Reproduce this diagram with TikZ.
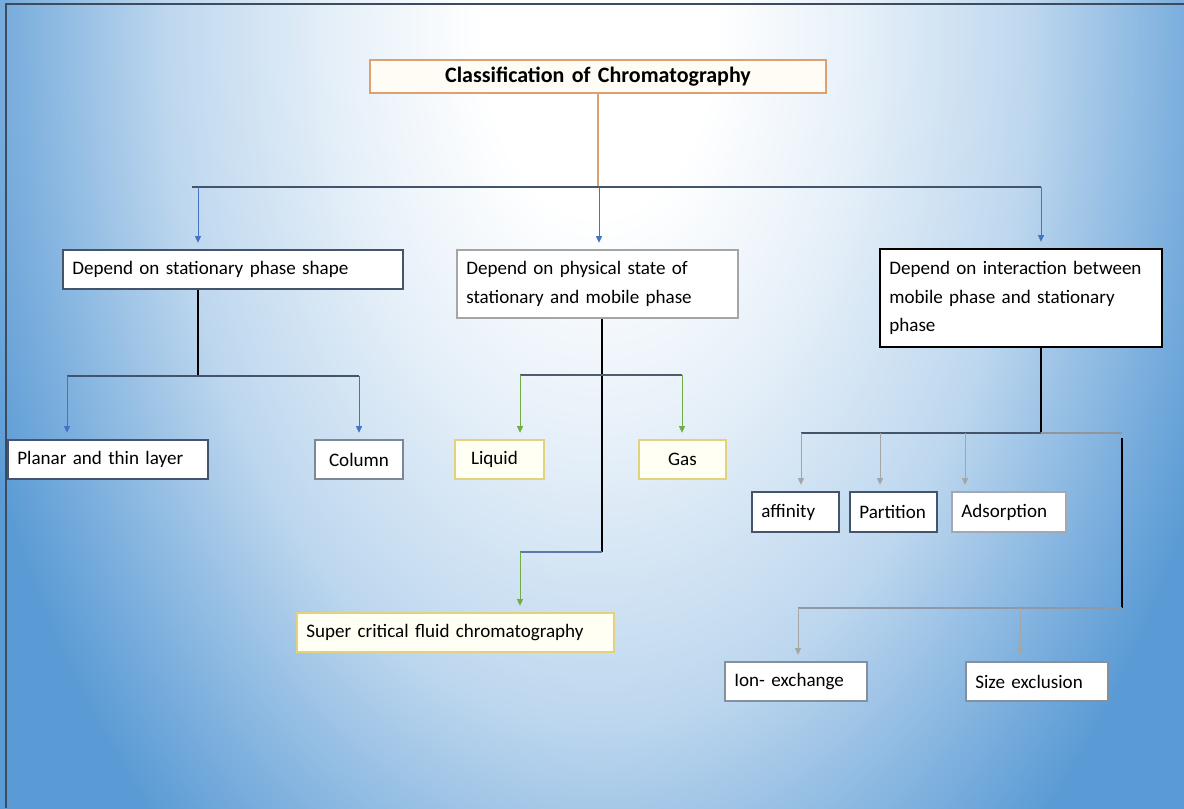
\documentclass[tikz,border=0pt]{standalone}
\usepackage{fontspec}
\setmainfont{Carlito}
\usetikzlibrary{arrows.meta,positioning}
\definecolor{bgblue}{HTML}{5B9BD5}
\definecolor{slate}{HTML}{44546A}
\definecolor{arrblue}{HTML}{4472C4}
\definecolor{leafgreen}{HTML}{70AD47}
\definecolor{goldline}{HTML}{E2D27E}
\definecolor{tanline}{HTML}{DDA070}
\definecolor{greyline}{HTML}{A5A5A5}
\definecolor{cream}{HTML}{FFFFF4}
\definecolor{titlefill}{HTML}{FFFCF6}
\colorlet{glowA}{bgblue!15!white}
\colorlet{glowB}{bgblue!40!white}
\colorlet{glowC}{bgblue!78!white}
\pgfdeclareradialshading{glow}{\pgfpoint{0bp}{0bp}}{color(0bp)=(white); color(4bp)=(white); color(9bp)=(glowA); color(15bp)=(glowB); color(20bp)=(glowC); color(23bp)=(bgblue); color(50bp)=(bgblue)}

\begin{document}
\begin{tikzpicture}[x=0.75pt, y=-0.75pt,
  cell/.style 2 args={draw=#1, fill=white, line width=0.8pt, inner xsep=7pt, inner ysep=0pt,
    text width={#2-14pt}, minimum height=29.25pt, align=left,
    font=\fontsize{14.3}{21.5}\selectfont},
  feed/.style={draw=#1, line width=0.75pt, -{Triangle[length=5pt,width=4.5pt]}, shorten >=5pt},
  stem/.style={draw=black, line width=1.6pt},
  wire/.style={draw=#1, line width=0.9pt}]
  \useasboundingbox (0,0) rectangle (1184,808);
  % background glow
  \begin{scope}
    \clip (0,0) rectangle (1184,808);
    \shade[shading=glow] (-122,-1120) rectangle (1318,1180);
  \end{scope}
  \draw[slate!90!black, line width=1pt] (6,808) -- (6,4) -- (1184,4);

  % boxes
  \node[cell={tanline}{342pt}, fill=titlefill, align=center, minimum height=24.75pt,
    font=\fontsize{16.5}{20}\selectfont\bfseries] (title) at (598,76.5) {Classification of Chromatography};
  \node[cell={slate}{255pt}] (shape) at (233,269.5) {Depend on stationary phase shape};
  \node[cell={greyline}{210.75pt}, minimum height=51pt] (state) at (597.5,284) {Depend on physical state of\\stationary and mobile phase};
  \node[cell={black}{211.5pt}, minimum height=73.5pt] (inter) at (1021,298) {Depend on interaction between\\mobile phase and stationary\\phase};
  \node[cell={slate}{150pt}] (planar) at (108,459.5) {Planar and thin layer};
  \node[cell={slate!70}{66pt}, align=center] (column) at (359,459.5) {Column};
  \node[cell={goldline}{66.75pt}, fill=cream, inner xsep=12pt, text width=42.75pt] (liquid) at (499.5,459.5) {Liquid};
  \node[cell={goldline}{65.25pt}, fill=cream, align=center] (gas) at (682.5,459.5) {Gas};
  \node[cell={goldline}{237.75pt}, fill=cream] (super) at (455.5,632.5) {Super critical fluid chromatography};
  \node[cell={slate}{65.25pt}, minimum height=30pt] (affinity) at (795.5,512) {affinity};
  \node[cell={slate}{65.25pt}, minimum height=30pt] (partition) at (893.5,512) {Partition};
  \node[cell={slate!50}{85.5pt}, minimum height=30pt] (adsorption) at (1009,512) {Adsorption};
  \node[cell={slate!65}{106.5pt}] (ionex) at (796,681.5) {Ion- exchange};
  \node[cell={slate!65}{106.5pt}] (sizeex) at (1037,681.5) {Size exclusion};

  % top level
  \coordinate (busL) at (192,187);
  \coordinate (busR) at (1041,187);
  \draw[wire=tanline] (title.south) -- (title.south |- busL);
  \draw[wire=slate, line width=1.4pt] (busL) -- (busR);
  \foreach \x/\n in {198/shape, 599/state, 1041/inter} {
    \coordinate (top-\n) at (\x,187);
    \draw[feed=arrblue] (top-\n) -- (top-\n |- \n.north);
  }

  % stationary phase shape
  \coordinate (jS) at (198,376);
  \draw[stem] (shape.south -| jS) -- (jS);
  \coordinate (pL) at (67,376);
  \coordinate (pR) at (359,376);
  \draw[wire=slate] (pL) -- (pR);
  \draw[feed=arrblue] (pL) -- (pL |- planar.north);
  \draw[feed=arrblue] (pR) -- (pR |- column.north);

  % physical state
  \coordinate (jP) at (602,552);
  \draw[stem] (state.south -| jP) -- (jP);
  \coordinate (lL) at (520,375);
  \coordinate (lR) at (682,375);
  \draw[wire=slate!80!gray] (lL) -- (lR);
  \draw[feed=leafgreen] (lL) -- (lL |- liquid.north);
  \draw[feed=leafgreen] (lR) -- (lR |- gas.north);
  \coordinate (sF) at (520,552);
  \draw[wire=arrblue!60!gray] (jP) -- (sF);
  \draw[feed=leafgreen] (sF) -- (sF |- super.north);

  % interaction
  \coordinate (jI) at (1041,433);
  \draw[stem] (inter.south -| jI) -- (jI);
  \coordinate (iL) at (801,433);
  \coordinate (iR) at (1122,433);
  \draw[wire=slate] (iL) -- (jI);
  \draw[wire=greyline!80!slate] (jI) -- (iR);
  \foreach \x/\n in {801/affinity, 880/partition, 965/adsorption} {
    \coordinate (up-\n) at (\x,433);
    \draw[feed=greyline] (up-\n) -- (up-\n |- \n.north);
  }
  \coordinate (kT) at (1122,438);
  \coordinate (kB) at (1122,608);
  \draw[stem] (kT) -- (kB);
  \coordinate (kL) at (798,608);
  \draw[wire=slate!60] (kL) -- (kB);
  \foreach \x/\n in {798/ionex, 1020/sizeex} {
    \coordinate (lo-\n) at (\x,608);
    \draw[feed=greyline] (lo-\n) -- (lo-\n |- \n.north);
  }
\end{tikzpicture}
\end{document}
